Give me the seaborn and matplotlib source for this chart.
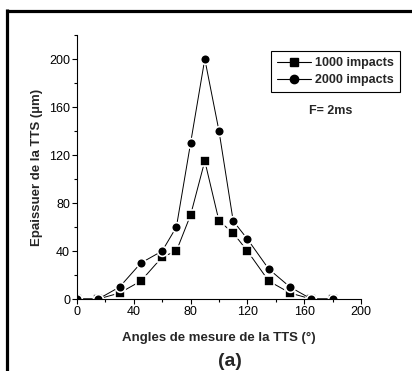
import matplotlib
matplotlib.use("Agg")
import matplotlib.pyplot as plt
from matplotlib.lines import Line2D
from matplotlib.ticker import MultipleLocator
import seaborn as sns
import pandas as pd

# Measurement angles (deg) and TTS thickness (um) for the two impact counts
angles = [0, 15, 30, 45, 60, 70, 80, 90, 100, 110, 120, 135, 150, 165, 180]
ep_1000 = [0, 0, 5, 15, 35, 40, 70, 115, 65, 55, 40, 15, 5, 0, 0]
ep_2000 = [0, 0, 10, 30, 40, 60, 130, 200, 140, 65, 50, 25, 10, 0, 0]
series_labels = ["1000 impacts", "2000 impacts"]
x_ticks = [0, 40, 80, 120, 160, 200]
y_ticks = [0, 40, 80, 120, 160, 200]

sns.set_theme(style="ticks")
plt.rcParams["font.family"] = ["Liberation Sans", "DejaVu Sans"]

df = pd.concat([
    pd.DataFrame({"angle": angles, "ep": ep_1000, "serie": series_labels[0]}),
    pd.DataFrame({"angle": angles, "ep": ep_2000, "serie": series_labels[1]}),
])

fig = plt.figure(figsize=(4.12, 3.71), dpi=100)
fig.patch.set_facecolor("white")
ax = fig.add_axes([77 / 412, 72 / 371, 284 / 412, 264 / 371])

sns.lineplot(
    data=df, x="angle", y="ep", hue="serie", style="serie",
    markers=["s", "o"], dashes=False, palette=["black", "black"],
    linewidth=0.7, markersize=7, markeredgecolor="white",
    markeredgewidth=1.2, legend=False, ax=ax, sort=False,
)

ax.set_xlim(0, 200)
ax.set_ylim(0, 220)
ax.xaxis.set_major_locator(MultipleLocator(40))
ax.xaxis.set_minor_locator(MultipleLocator(20))
ax.yaxis.set_major_locator(MultipleLocator(40))
ax.yaxis.set_minor_locator(MultipleLocator(20))
ax.set_xticks(x_ticks)
ax.set_yticks(y_ticks)
ax.tick_params(axis="both", which="major", direction="out", length=3.5,
               width=0.8, labelsize=9, pad=1.5, colors="black")
ax.tick_params(axis="both", which="minor", direction="out", length=2,
               width=0.8, colors="black")
for side in ("top", "right"):
    ax.spines[side].set_visible(False)
for side in ("left", "bottom"):
    ax.spines[side].set_linewidth(0.8)
    ax.spines[side].set_color("black")
ax.spines["left"].set_bounds(0, 220)

ax.set_xlabel("Angles de mesure de la TTS (°)", fontsize=9.5,
              fontweight="bold", labelpad=10)
ax.set_ylabel("Epaissuer de la TTS (µm)", fontsize=9.5,
              fontweight="bold", labelpad=4)

handles = [
    Line2D([], [], color="black", lw=0.8, marker="s", markersize=5.5),
    Line2D([], [], color="black", lw=0.8, marker="o", markersize=6),
]
leg = fig.legend(
    handles, series_labels, loc="upper left",
    bbox_to_anchor=(271 / 412, 1 - 50.7 / 371), bbox_transform=fig.transFigure,
    frameon=True, fancybox=False, edgecolor="black", framealpha=1,
    prop={"size": 9, "weight": "bold"}, handlelength=2.7, handletextpad=0.3,
    borderpad=0.5, labelspacing=0.4, borderaxespad=0,
)
leg.get_frame().set_linewidth(0.8)

fig.text(331 / 412, 1 - 111 / 371, "F= 2ms", fontsize=9, fontweight="bold",
         ha="center", va="center")
fig.text(230 / 412, 1 - 361 / 371, "(a)", fontsize=14, fontweight="bold",
         ha="center", va="center")

# Thick frame edges along the top and left of the figure
fig.add_artist(Line2D([5.5 / 412, 1], [1 - 10.5 / 371, 1 - 10.5 / 371],
                      color="black", lw=2.3, transform=fig.transFigure,
                      solid_capstyle="butt"))
fig.add_artist(Line2D([6.5 / 412, 6.5 / 412], [0, 1 - 9 / 371],
                      color="black", lw=2.3, transform=fig.transFigure,
                      solid_capstyle="butt"))

fig.savefig("out.png", dpi=100, facecolor="white")
